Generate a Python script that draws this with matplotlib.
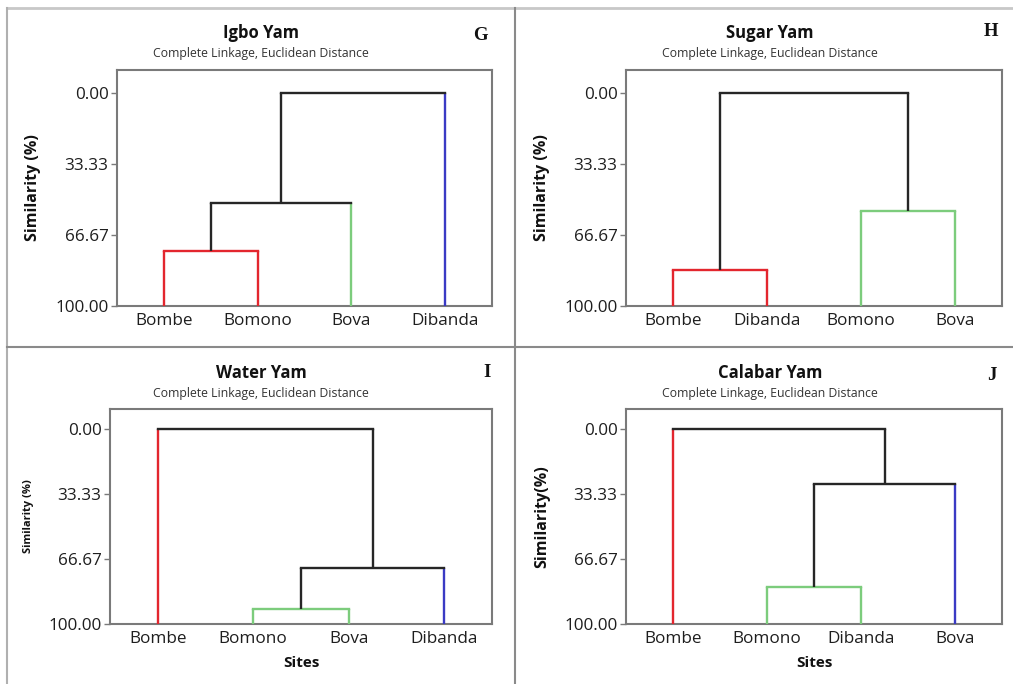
import matplotlib
matplotlib.use("Agg")
import matplotlib.pyplot as plt
from matplotlib.lines import Line2D

plt.rcParams['font.family'] = ['Open Sans', 'DejaVu Sans']

# ---------------- data ----------------
yticks = [0.0, 33.33, 66.67, 100.0]
ytick_labels = ["0.00", "33.33", "66.67", "100.00"]

G_title = "Igbo Yam"
G_sites = ["Bombe", "Bomono", "Bova", "Dibanda"]
G_leaf_colors = ["red", "red", "green", "blue"]
G_merges = [(0, 1, 74.2), (4, 2, 51.6), (5, 3, 0.0)]   # (child a, child b, similarity)
G_merge_colors = ["red", "black", "black"]

H_title = "Sugar Yam"
H_sites = ["Bombe", "Dibanda", "Bomono", "Bova"]
H_leaf_colors = ["red", "red", "green", "green"]
H_merges = [(0, 1, 83.1), (2, 3, 55.4), (4, 5, 0.0)]
H_merge_colors = ["red", "green", "black"]

I_title = "Water Yam"
I_sites = ["Bombe", "Bomono", "Bova", "Dibanda"]
I_leaf_colors = ["red", "green", "green", "blue"]
I_merges = [(1, 2, 92.1), (4, 3, 71.5), (0, 5, 0.0)]
I_merge_colors = ["green", "black", "black"]

J_title = "Calabar Yam"
J_sites = ["Bombe", "Bomono", "Dibanda", "Bova"]
J_leaf_colors = ["red", "green", "green", "blue"]
J_merges = [(1, 2, 80.9), (4, 3, 28.2), (0, 5, 0.0)]
J_merge_colors = ["green", "black", "black"]

subtitle = "Complete Linkage, Euclidean Distance"

# ---------------- style ----------------
W, H = 1013, 684
COL = {"red": "#e3262e", "green": "#7ccc7c", "blue": "#3a3ac4", "black": "#262626"}
SPINE = "#7a7a7a"
LW = 1.7

fig = plt.figure(figsize=(W / 100, H / 100), dpi=100)


def px_rect(l, t, r, b):
    return [l / W, 1 - b / H, (r - l) / W, (b - t) / H]


def dendro(ax, sites, leaf_colors, merges, merge_colors):
    n = len(sites)
    xs = {i: i + 1 for i in range(n)}
    hs = {i: 100.0 for i in range(n)}
    cols = {i: leaf_colors[i] for i in range(n)}
    for k, (a, b, h) in enumerate(merges):
        node = n + k
        mc = merge_colors[k]
        for c in (a, b):
            vc = cols[c] if c < n else mc
            ax.plot([xs[c], xs[c]], [hs[c], h], color=COL[vc], lw=LW,
                    solid_capstyle='butt', zorder=3)
        ax.plot([xs[a], xs[b]], [h, h], color=COL[mc], lw=LW,
                solid_capstyle='projecting', zorder=3)
        xs[node] = (xs[a] + xs[b]) / 2
        hs[node] = h
        cols[node] = mc


def setup(ax, sites, ytop):
    ax.set_xlim(0.5, len(sites) + 0.5)
    ax.set_ylim(100, ytop)
    ax.set_yticks(yticks)
    ax.set_yticklabels(ytick_labels, fontsize=12.3, color="#1e1e1e")
    ax.set_xticks(range(1, len(sites) + 1))
    ax.set_xticklabels(sites, fontsize=12.3, color="#1e1e1e")
    ax.tick_params(axis='y', length=4, width=1, color=SPINE, pad=2)
    ax.tick_params(axis='x', length=0, pad=5)
    for s in ax.spines.values():
        s.set_color(SPINE)
        s.set_linewidth(1.5)


panels = [
    (G_title, G_sites, G_leaf_colors, G_merges, G_merge_colors,
     (117, 70, 492, 306), -10.8, 261, 33, "G", 480, 35, "Similarity (%)", 33, 11.5, None),
    (H_title, H_sites, H_leaf_colors, H_merges, H_merge_colors,
     (626, 70, 1002, 306), -10.8, 770, 33, "H", 991, 32, "Similarity (%)", 542, 11.5, None),
    (I_title, I_sites, I_leaf_colors, I_merges, I_merge_colors,
     (110, 409, 492, 624), -10.3, 261, 373, "I", 487, 373, "Similarity (%)", 28, 8, "Sites"),
    (J_title, J_sites, J_leaf_colors, J_merges, J_merge_colors,
     (626, 409, 1002, 624), -10.3, 770, 373, "J", 992, 376, "Similarity(%)", 542, 11.5, "Sites"),
]

for (title, sites, lc, mg, mcol, rect, ytop, tx, ty, letter, lx, ly,
     ylab, ylx, ylfs, xlab) in panels:
    ax = fig.add_axes(px_rect(*rect))
    dendro(ax, sites, lc, mg, mcol)
    setup(ax, sites, ytop)
    fig.text(tx / W, 1 - ty / H, title, fontsize=12, fontweight='bold',
             ha='center', va='center', color="#111111")
    fig.text(tx / W, 1 - (ty + 20) / H, subtitle, fontsize=8.8,
             ha='center', va='center', color="#333333")
    fig.text(lx / W, 1 - ly / H, letter, fontsize=13.5, fontweight='bold',
             family='Liberation Serif', ha='center', va='center', color="#111111")
    yc = (rect[1] + rect[3]) / 2
    fig.text(ylx / W, 1 - yc / H, ylab, fontsize=ylfs, fontweight='bold',
             rotation=90, ha='center', va='center', color="#111111")
    if xlab:
        fig.text(((rect[0] + rect[2]) / 2) / W, 1 - 663 / H, xlab, fontsize=11,
                 fontweight='bold', ha='center', va='center', color="#111111")

# panel frame / dividers
fig.add_artist(Line2D([7 / W, 1], [1 - 8 / H, 1 - 8 / H], color="#c8c8c8", lw=2))
fig.add_artist(Line2D([7 / W, 7 / W], [0, 1 - 8 / H], color="#b0b0b0", lw=1.5))
fig.add_artist(Line2D([515 / W, 515 / W], [0, 1 - 8 / H], color="#8a8a8a", lw=1.5))
fig.add_artist(Line2D([7 / W, 1], [1 - 347 / H, 1 - 347 / H], color="#8a8a8a", lw=1.5))

fig.savefig("out.png", dpi=100)
